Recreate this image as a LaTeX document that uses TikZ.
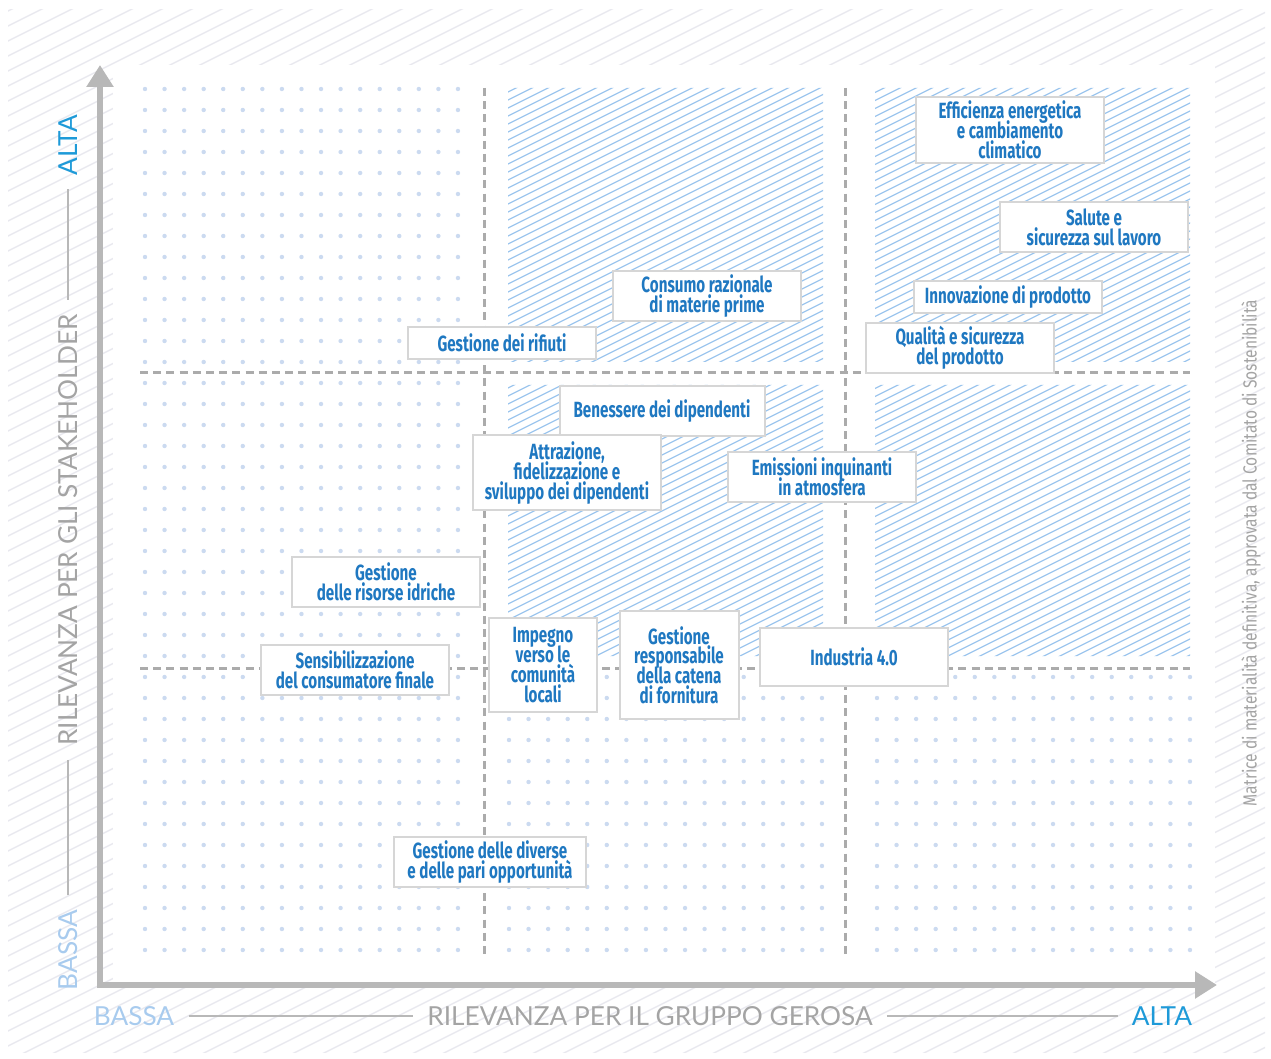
\documentclass[tikz,border=0pt]{standalone}
\usepackage{fontspec}
\setmainfont{Fira Sans}
\newfontfamily\temafont[FakeStretch=0.69]{Fira Sans}
\newfontfamily\assefont{Lato}
\newfontfamily\notafont[FakeStretch=0.82]{Fira Sans}
\usetikzlibrary{arrows.meta}
\lineskiplimit=-20pt
\definecolor{temablu}{HTML}{1F78C1}
\definecolor{altablu}{HTML}{1E9AD8}
\definecolor{bassablu}{HTML}{A8CBEE}
\definecolor{tratteggio}{HTML}{9DC6EE}
\definecolor{puntino}{HTML}{CBDAF0}
\definecolor{lineagrigia}{HTML}{ABABAB}
\definecolor{assegrigio}{HTML}{B8B8B8}
\definecolor{bordobox}{HTML}{D6D6D6}
\definecolor{sfondo}{HTML}{E9E9EF}
\definecolor{etichetta}{HTML}{A4A4A4}
\tikzset{
    tema/.style={draw=bordobox, line width=1pt, fill=white, text=temablu, align=center,
        inner sep=1pt, minimum width=94pt, minimum height=#1,
        font=\temafont\bfseries\fontsize{11pt}{9.9pt}\selectfont},
    tema/.default=25pt,
    divisore/.style={lineagrigia, line width=1.5pt, dash pattern=on 4pt off 2.6pt},
    asse/.style={assegrigio, line width=3pt, -{Triangle[length=11pt,width=13pt]}},
    asselabel/.style={inner sep=0pt, font=\assefont\fontsize{13.1pt}{14pt}\selectfont},
    guida/.style={assegrigio, line width=1pt, shorten <=7pt, shorten >=7pt}
}
\begin{document}
\begin{tikzpicture}[x=0.5pt,y=-0.5pt]
            \useasboundingbox (0,0) rectangle (1271,1059);
            % sfondo
            \begin{scope}
                \clip (8,10) rectangle (1265,1052);
                \foreach \c in {0,15,...,1700}
                    \draw[sfondo, line width=0.7pt] (0,\c) -- (1271,\c-635.5);
            \end{scope}
            \fill[white] (113,65) rectangle (1215,983);
            % punti
            \foreach \i in {0,...,16}{
                \foreach \j in {0,...,41}
                    \fill[puntino] (145+19.56*\i,89+21*\j) circle (1.1pt);
                \foreach \j in {28,...,41}{
                    \fill[puntino] (509+19.56*\i,89+21*\j) circle (1.1pt);
                    \fill[puntino] (877+19.56*\i,89+21*\j) circle (1.1pt);
                }
            }
            % aree tratteggiate
            \begin{scope}
                \clip (508,88) rectangle (823,362) (875,88) rectangle (1190,362)
                    (508,385) rectangle (823,656) (875,385) rectangle (1190,656);
                \foreach \c in {88,96,...,1060}
                    \draw[tratteggio, line width=0.6pt] (500,\c) -- (1200,\c-350);
            \end{scope}
            % quadranti
            \draw[divisore] (484,88) -- (484,955);
            \draw[divisore] (845,88) -- (845,955);
            \draw[divisore] (140,373) -- (1190,373);
            \draw[divisore] (140,668) -- (1190,668);
            % assi
            \draw[asse] (100,988) -- (100,65);
            \draw[asse] (97,985) -- (1217,985);
            \node[asselabel, text=altablu, rotate=90] (yalta) at (68,145) {ALTA};
            \node[asselabel, text=etichetta, rotate=90] (ytitolo) at (68,530) {RILEVANZA PER GLI STAKEHOLDER};
            \node[asselabel, text=bassablu, rotate=90] (ybassa) at (68,950) {BASSA};
            \draw[guida] (ybassa) -- (ytitolo);
            \draw[guida] (ytitolo) -- (yalta);
            \node[asselabel, text=bassablu] (xbassa) at (134,1016) {BASSA};
            \node[asselabel, text=etichetta] (xtitolo) at (650,1016) {RILEVANZA PER IL GRUPPO GEROSA};
            \node[asselabel, text=altablu] (xalta) at (1162,1016) {ALTA};
            \draw[guida] (xbassa) -- (xtitolo);
            \draw[guida] (xtitolo) -- (xalta);
            \node[rotate=90, text=etichetta, inner sep=0pt, font=\notafont\fontsize{9.5pt}{11pt}\selectfont]
                (nota) at (1251,553) {Matrice di materialità definitiva, approvata dal Comitato di Sostenibilità};
            % temi
            \node[tema=33pt] (efficienza) at (1010,130) {Efficienza energetica\\e cambiamento\\climatico};
            \node[tema] (salute) at (1094,227) {Salute e\\sicurezza sul lavoro};
            \node[tema=16pt] (innovazione) at (1008,297) {Innovazione di prodotto};
            \node[tema] (qualita) at (960,348) {Qualità e sicurezza\\del prodotto};
            \node[tema] (consumo) at (707,296) {Consumo razionale\\di materie prime};
            \node[tema=16pt] (rifiuti) at (502,343) {Gestione dei rifiuti};
            \node[tema, minimum width=102.5pt] (benessere) at (662,411) {Benessere dei dipendenti};
            \node[tema=37.5pt] (attrazione) at (567,473) {Attrazione,\\fidelizzazione e\\sviluppo dei dipendenti};
            \node[tema] (emissioni) at (822,477) {Emissioni inquinanti\\in atmosfera};
            \node[tema] (idriche) at (386,582) {Gestione\\delle risorse idriche};
            \node[tema] (consumatore) at (355,670) {Sensibilizzazione\\del consumatore finale};
            \node[tema=47pt, minimum width=54pt] (comunita) at (543,665) {Impegno\\verso le\\comunità\\locali};
            \node[tema=53.5pt, minimum width=59.5pt] (fornitura) at (679,665) {Gestione\\responsabile\\della catena\\di fornitura};
            \node[tema=28.5pt] (industria) at (854,657) {Industria 4.0};
            \node[tema, minimum width=96pt] (opportunita) at (490,862) {Gestione delle diverse\\e delle pari opportunità};
\end{tikzpicture}
\end{document}
